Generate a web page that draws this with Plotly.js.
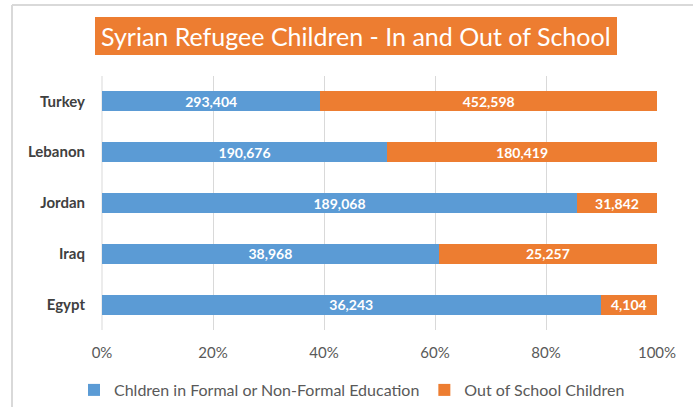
<!DOCTYPE html>
<html>
<head>
<meta charset="utf-8">
<script src="https://cdn.plot.ly/plotly-3.0.1.min.js"></script>
<style>html,body{margin:0;padding:0;background:#fff;}#chart{width:693px;height:407px;}</style>
</head>
<body>
<div id="chart"></div>
<script>
var countries = ["Egypt", "Iraq", "Jordan", "Lebanon", "Turkey"];
var inSchool = [36243, 38968, 189068, 190676, 293404];
var outOfSchool = [4104, 25257, 31842, 180419, 452598];
var seriesNames = ["Chldren in Formal or Non-Formal Education", "Out of School Children"];
var seriesColors = ["#5B9BD5", "#ED7D31"];
var xTickVals = [0, 20, 40, 60, 80, 100];
var xTickText = ["0%", "20%", "40%", "60%", "80%", "100%"];
var titleText = "Syrian Refugee Children - In and Out of School";

var FONT = "Lato, 'Open Sans', sans-serif";
function fmt(a){ return a.map(function(v){ return v.toLocaleString('en-US'); }); }

// plot area in pixels: x 102..657, y 76..330
var L = 102, R = 657, T = 76, B = 330, W = 693, H = 407;
function px(x){ return (x - L) / (R - L); }
function py(y){ return (B - y) / (B - T); }

var traces = [inSchool, outOfSchool].map(function(vals, i){
  return {
    type: 'bar', orientation: 'h',
    y: countries, x: vals,
    name: seriesNames[i],
    marker: {color: seriesColors[i], line: {width: 0}},
    text: fmt(vals), textposition: 'inside', insidetextanchor: 'middle',
    constraintext: 'none',
    textfont: {family: FONT, size: 14, color: '#ffffff', weight: 'bold'},
    hoverinfo: 'none'
  };
});

var layout = {
  width: W, height: H,
  margin: {l: L, r: W - R, t: T, b: H - B, pad: 0, autoexpand: false},
  paper_bgcolor: '#ffffff', plot_bgcolor: '#ffffff',
  barmode: 'stack', barnorm: 'percent', bargap: 0.605,
  font: {family: FONT, color: '#595959'},
  showlegend: true,
  legend: {orientation: 'h', xref: 'container', yref: 'container',
           x: 74 / W, xanchor: 'left', y: 1 - 390 / H, yanchor: 'middle',
           font: {family: FONT, size: 16, color: '#595959'}, traceorder: 'normal',
           itemwidth: 30, bgcolor: 'rgba(0,0,0,0)'},
  xaxis: {range: [0, 100], tickmode: 'array', tickvals: xTickVals, ticktext: xTickText,
          showgrid: true, automargin: false,
          gridcolor: '#D9D9D9', gridwidth: 1, zeroline: false, showline: false,
          ticks: '', ticklabelstandoff: 12,
          tickfont: {family: FONT, size: 15, color: '#595959'}, fixedrange: true},
  yaxis: {showgrid: false, zeroline: false, showline: false, ticks: '', automargin: false,
          ticklabelstandoff: 16,
          tickfont: {family: FONT, size: 15, color: '#404040', weight: 'bold'}, fixedrange: true},
  shapes: [
    {type: 'line', xref: 'paper', yref: 'paper', x0: px(12), x1: px(700), y0: py(5), y1: py(5),
     line: {color: '#D9D9D9', width: 2}, layer: 'below'},
    {type: 'line', xref: 'paper', yref: 'paper', x0: px(12), x1: px(12), y0: py(5), y1: py(420),
     line: {color: '#D9D9D9', width: 2}, layer: 'below'},
    {type: 'line', xref: 'paper', yref: 'paper', x0: 0, x1: 0, y0: 0, y1: 1,
     line: {color: '#D9D9D9', width: 1}, layer: 'below'},
    {type: 'rect', xref: 'paper', yref: 'paper', x0: px(95), x1: px(617), y0: py(55), y1: py(17),
     fillcolor: '#ED7D31', line: {width: 0}, layer: 'above'}
  ],
  annotations: [
    {text: titleText, xref: 'paper', yref: 'paper', x: px(356), y: py(36),
     xanchor: 'center', yanchor: 'middle', showarrow: false,
     font: {family: FONT, size: 25, color: '#ffffff'}}
  ]
};

Plotly.newPlot('chart', traces, layout, {displayModeBar: false, staticPlot: true});
</script>
</body>
</html>
